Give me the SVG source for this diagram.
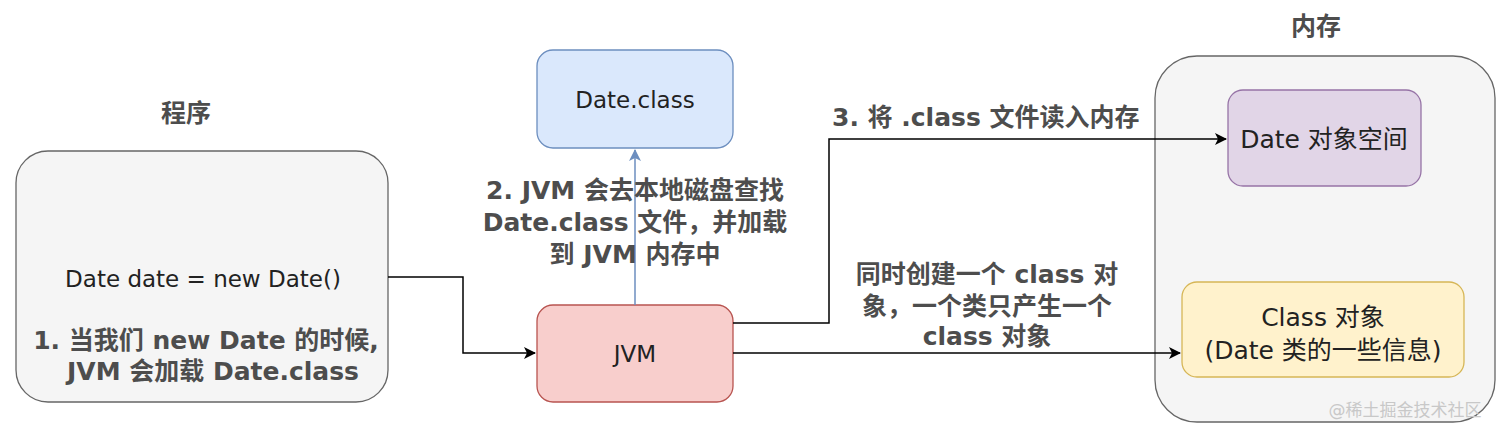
<svg xmlns="http://www.w3.org/2000/svg" width="1512" height="438" viewBox="0 0 1512 438">
<defs>
<marker id="ab" viewBox="0 0 12 12" refX="11" refY="6" markerWidth="12" markerHeight="12" markerUnits="userSpaceOnUse" orient="auto">
<path d="M0,0 L12,6 L0,12 L3,6 Z" fill="#000"/>
</marker>
<marker id="ablue" viewBox="0 0 12 12" refX="11" refY="6" markerWidth="12" markerHeight="12" markerUnits="userSpaceOnUse" orient="auto">
<path d="M0,0 L12,6 L0,12 L3,6 Z" fill="#6c8ebf"/>
</marker>
</defs>
<style>
text{font-family:"DejaVu Sans","Noto Sans CJK SC",sans-serif;font-size:25px;text-anchor:middle;dominant-baseline:central}
.n{fill:#222}
.s{font-size:23px}
.b{font-weight:bold;fill:#4d4d4d}
.conn{fill:none;stroke:#000;stroke-width:1.5}
</style>
<rect width="1512" height="438" fill="#fff"/>
<g id="program">
<text class="b" x="186" y="113">程序</text>
<rect x="16" y="151" width="372" height="251" rx="32" fill="#f5f5f5" stroke="#666" stroke-width="1.3"/>
<text class="n s" x="203" y="279">Date date = new Date()</text>
<text class="b" x="206" y="340">1. 当我们 new Date 的时候,</text>
<text class="b" x="213" y="371">JVM 会加载 Date.class</text>
</g>
<g id="dateclass">
<rect x="537" y="50" width="196" height="98" rx="16" fill="#dae8fc" stroke="#6c8ebf" stroke-width="1.3"/>
<text class="n s" x="635" y="100">Date.class</text>
</g>
<g id="jvm">
<rect x="537" y="305" width="196" height="97" rx="16" fill="#f8cecc" stroke="#b85450" stroke-width="1.3"/>
<text class="n s" x="635" y="354">JVM</text>
</g>
<g id="memory">
<text class="b" x="1316" y="26">内存</text>
<rect x="1155" y="56" width="340" height="366" rx="42" fill="#f5f5f5" stroke="#666" stroke-width="1.3"/>
</g>
<g id="dateobj">
<rect x="1228" y="90" width="193" height="96" rx="15" fill="#e1d5e7" stroke="#9673a6" stroke-width="1.3"/>
<text class="n" x="1324" y="139">Date 对象空间</text>
</g>
<g id="classobj">
<rect x="1182" y="282" width="282" height="95" rx="15" fill="#fff2cc" stroke="#d6b656" stroke-width="1.3"/>
<text class="n" x="1323" y="317">Class 对象</text>
<text class="n" x="1323" y="350">(Date 类的一些信息)</text>
</g>
<g id="connectors">
<path class="conn" d="M388,277 H463 V353 H535" marker-end="url(#ab)"/>
<path d="M635,305 V150" fill="none" stroke="#6c8ebf" stroke-width="1.5" marker-end="url(#ablue)"/>
<path class="conn" d="M733,323 H829 V139 H1226" marker-end="url(#ab)"/>
<path class="conn" d="M733,353 H1180" marker-end="url(#ab)"/>
<text class="b" x="635" y="190">2. JVM 会去本地磁盘查找</text>
<text class="b" x="635" y="222">Date.class 文件，并加载</text>
<text class="b" x="635" y="254">到 JVM 内存中</text>
<text class="b" x="832" y="117" style="text-anchor:start">3. 将 .class 文件读入内存</text>
<text class="b" x="987" y="274">同时创建一个 class 对</text>
<text class="b" x="987" y="306">象，一个类只产生一个</text>
<text class="b" x="987" y="336">class 对象</text>
</g>
<text x="1405" y="410" style="font-size:17px;fill:#c8c8c8">@稀土掘金技术社区</text>
</svg>
